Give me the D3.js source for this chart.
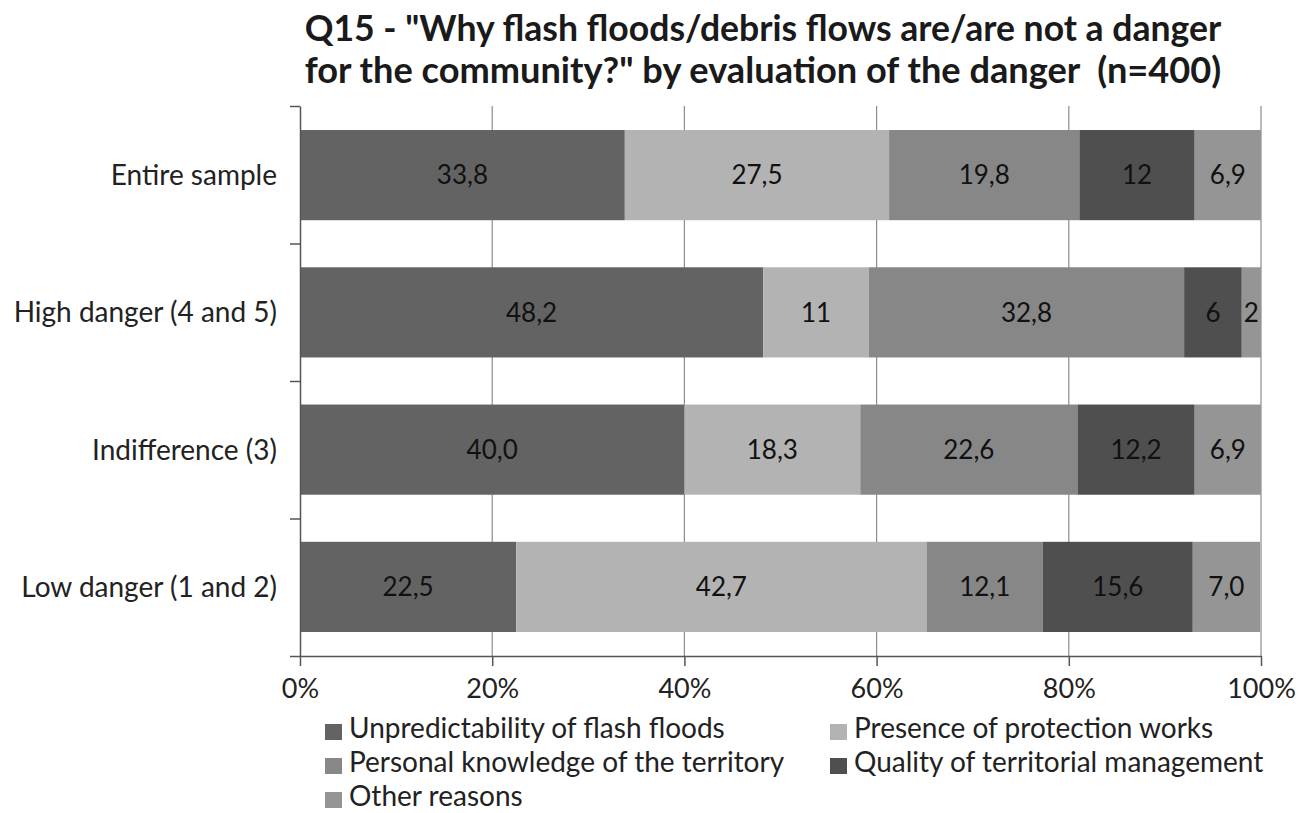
<!DOCTYPE html>
<html><head><meta charset="utf-8">
<script src="https://cdn.jsdelivr.net/npm/d3@7"></script>
<style>body{margin:0;background:#fff;} svg{display:block;}</style>
</head><body>
<svg id="chart" width="1309" height="813"></svg>
<script>
const categories = ["Entire sample", "High danger (4 and 5)", "Indifference (3)", "Low danger (1 and 2)"];
const seriesNames = ["Unpredictability of flash floods", "Presence of protection works", "Personal knowledge of the territory", "Quality of territorial management", "Other reasons"];
const unpredictability = [33.8, 48.2, 40.0, 22.5];
const protection = [27.5, 11, 18.3, 42.7];
const knowledge = [19.8, 32.8, 22.6, 12.1];
const management = [12, 6, 12.2, 15.6];
const other = [6.9, 2, 6.9, 7.0];
const labelText = [
  ["33,8", "27,5", "19,8", "12", "6,9"],
  ["48,2", "11", "32,8", "6", "2"],
  ["40,0", "18,3", "22,6", "12,2", "6,9"],
  ["22,5", "42,7", "12,1", "15,6", "7,0"]
];
const xTicks = [0, 20, 40, 60, 80, 100];
const colors = ["#636363", "#b3b3b3", "#878787", "#4f4f4f", "#959595"];
const titleLines = ["Q15 - \"Why flash floods/debris flows are/are not a danger", "for the community?\" by evaluation of the danger  (n=400)"];

(function() {
const svg = d3.select("#chart");
const font = "Lato, 'Open Sans', sans-serif";
const pLeft = 300, pRight = 1261, pTop = 106, pBottom = 656;

const x = d3.scaleLinear().domain([0, 100]).range([pLeft, pRight]);
const y = d3.scaleBand().domain(categories).range([pTop, pBottom]).paddingInner(0.343).paddingOuter(0.175);
const yb = d3.scaleLinear().domain([0, categories.length]).range([pTop, pBottom]);

const rows = categories.map((c, i) => ({cat: c, i, s0: unpredictability[i], s1: protection[i], s2: knowledge[i], s3: management[i], s4: other[i]}));
const keys = ["s0", "s1", "s2", "s3", "s4"];
const stacked = d3.stack().keys(keys)(rows);

// title
svg.selectAll(".title").data(titleLines).join("text")
  .attr("class", "title")
  .attr("x", 763).attr("y", (d, i) => 41 + i * 42)
  .attr("text-anchor", "middle")
  .style("white-space", "pre")
  .attr("font-family", font).attr("font-weight", "bold").attr("font-size", 30)
  .attr("fill", "#1a1a1a")
  .text(d => d)
  .each(function() {
    const w = this.getComputedTextLength();
    d3.select(this).attr("font-size", 30 * 917 / w);
  });

// gridlines
svg.append("g").selectAll("line").data(xTicks.filter(t => t > 0)).join("line")
  .attr("x1", d => x(d)).attr("x2", d => x(d))
  .attr("y1", pTop).attr("y2", pBottom)
  .attr("stroke", "#8c8c8c").attr("stroke-width", 1.2);

// bars
const gBars = svg.append("g");
stacked.forEach((layer, k) => {
  gBars.append("g").attr("fill", colors[k]).selectAll("rect").data(layer).join("rect")
    .attr("x", d => x(d[0]))
    .attr("width", d => x(d[1]) - x(d[0]))
    .attr("y", d => y(d.data.cat))
    .attr("height", y.bandwidth());
  gBars.append("g").selectAll("text").data(layer).join("text")
    .attr("x", d => (x(d[0]) + x(d[1])) / 2)
    .attr("y", d => y(d.data.cat) + y.bandwidth() / 2)
    .attr("dy", "0.36em")
    .attr("text-anchor", "middle")
    .attr("font-family", font).attr("font-size", 26)
    .attr("fill", "#111")
    .text(d => labelText[d.data.i][k]);
});

// x axis
const xAxis = svg.append("g").attr("transform", `translate(0,${pBottom})`)
  .call(d3.axisBottom(x).tickValues(xTicks).tickSize(10).tickPadding(13).tickSizeOuter(0).tickFormat(d => d + "%"));
xAxis.select(".domain").attr("stroke", "#555").attr("stroke-width", 1.5);
xAxis.selectAll(".tick line").attr("stroke", "#555").attr("stroke-width", 1.5);
xAxis.selectAll("text").attr("font-family", font).attr("font-size", 27).attr("fill", "#222");

// y axis (boundaries)
const yAxis = svg.append("g").attr("transform", `translate(${pLeft},0)`)
  .call(d3.axisLeft(yb).ticks(categories.length).tickSize(10).tickSizeOuter(0).tickFormat(""));
yAxis.select(".domain").attr("stroke", "#555").attr("stroke-width", 1.5);
yAxis.selectAll(".tick line").attr("stroke", "#555").attr("stroke-width", 1.5);

// category labels
const yLab = svg.append("g").attr("transform", `translate(${pLeft - 23},0)`)
  .call(d3.axisLeft(y).tickSize(0).tickPadding(0));
yLab.select(".domain").remove();
yLab.selectAll("text").attr("font-family", font).attr("font-size", 28).attr("dy", "0.36em").attr("fill", "#222");

// legend
const legPos = [[325, 738], [830, 738], [325, 772], [830, 772], [325, 806]];
const leg = svg.append("g").selectAll("g").data(seriesNames).join("g")
  .attr("transform", (d, i) => `translate(${legPos[i][0]},${legPos[i][1]})`);
leg.append("rect").attr("x", 0).attr("y", -14).attr("width", 17).attr("height", 16).attr("fill", (d, i) => colors[i]);
leg.append("text").attr("x", 24).attr("y", 0)
  .attr("font-family", font).attr("font-size", 28).attr("fill", "#222").text(d => d);
})();
</script>
</body></html>
